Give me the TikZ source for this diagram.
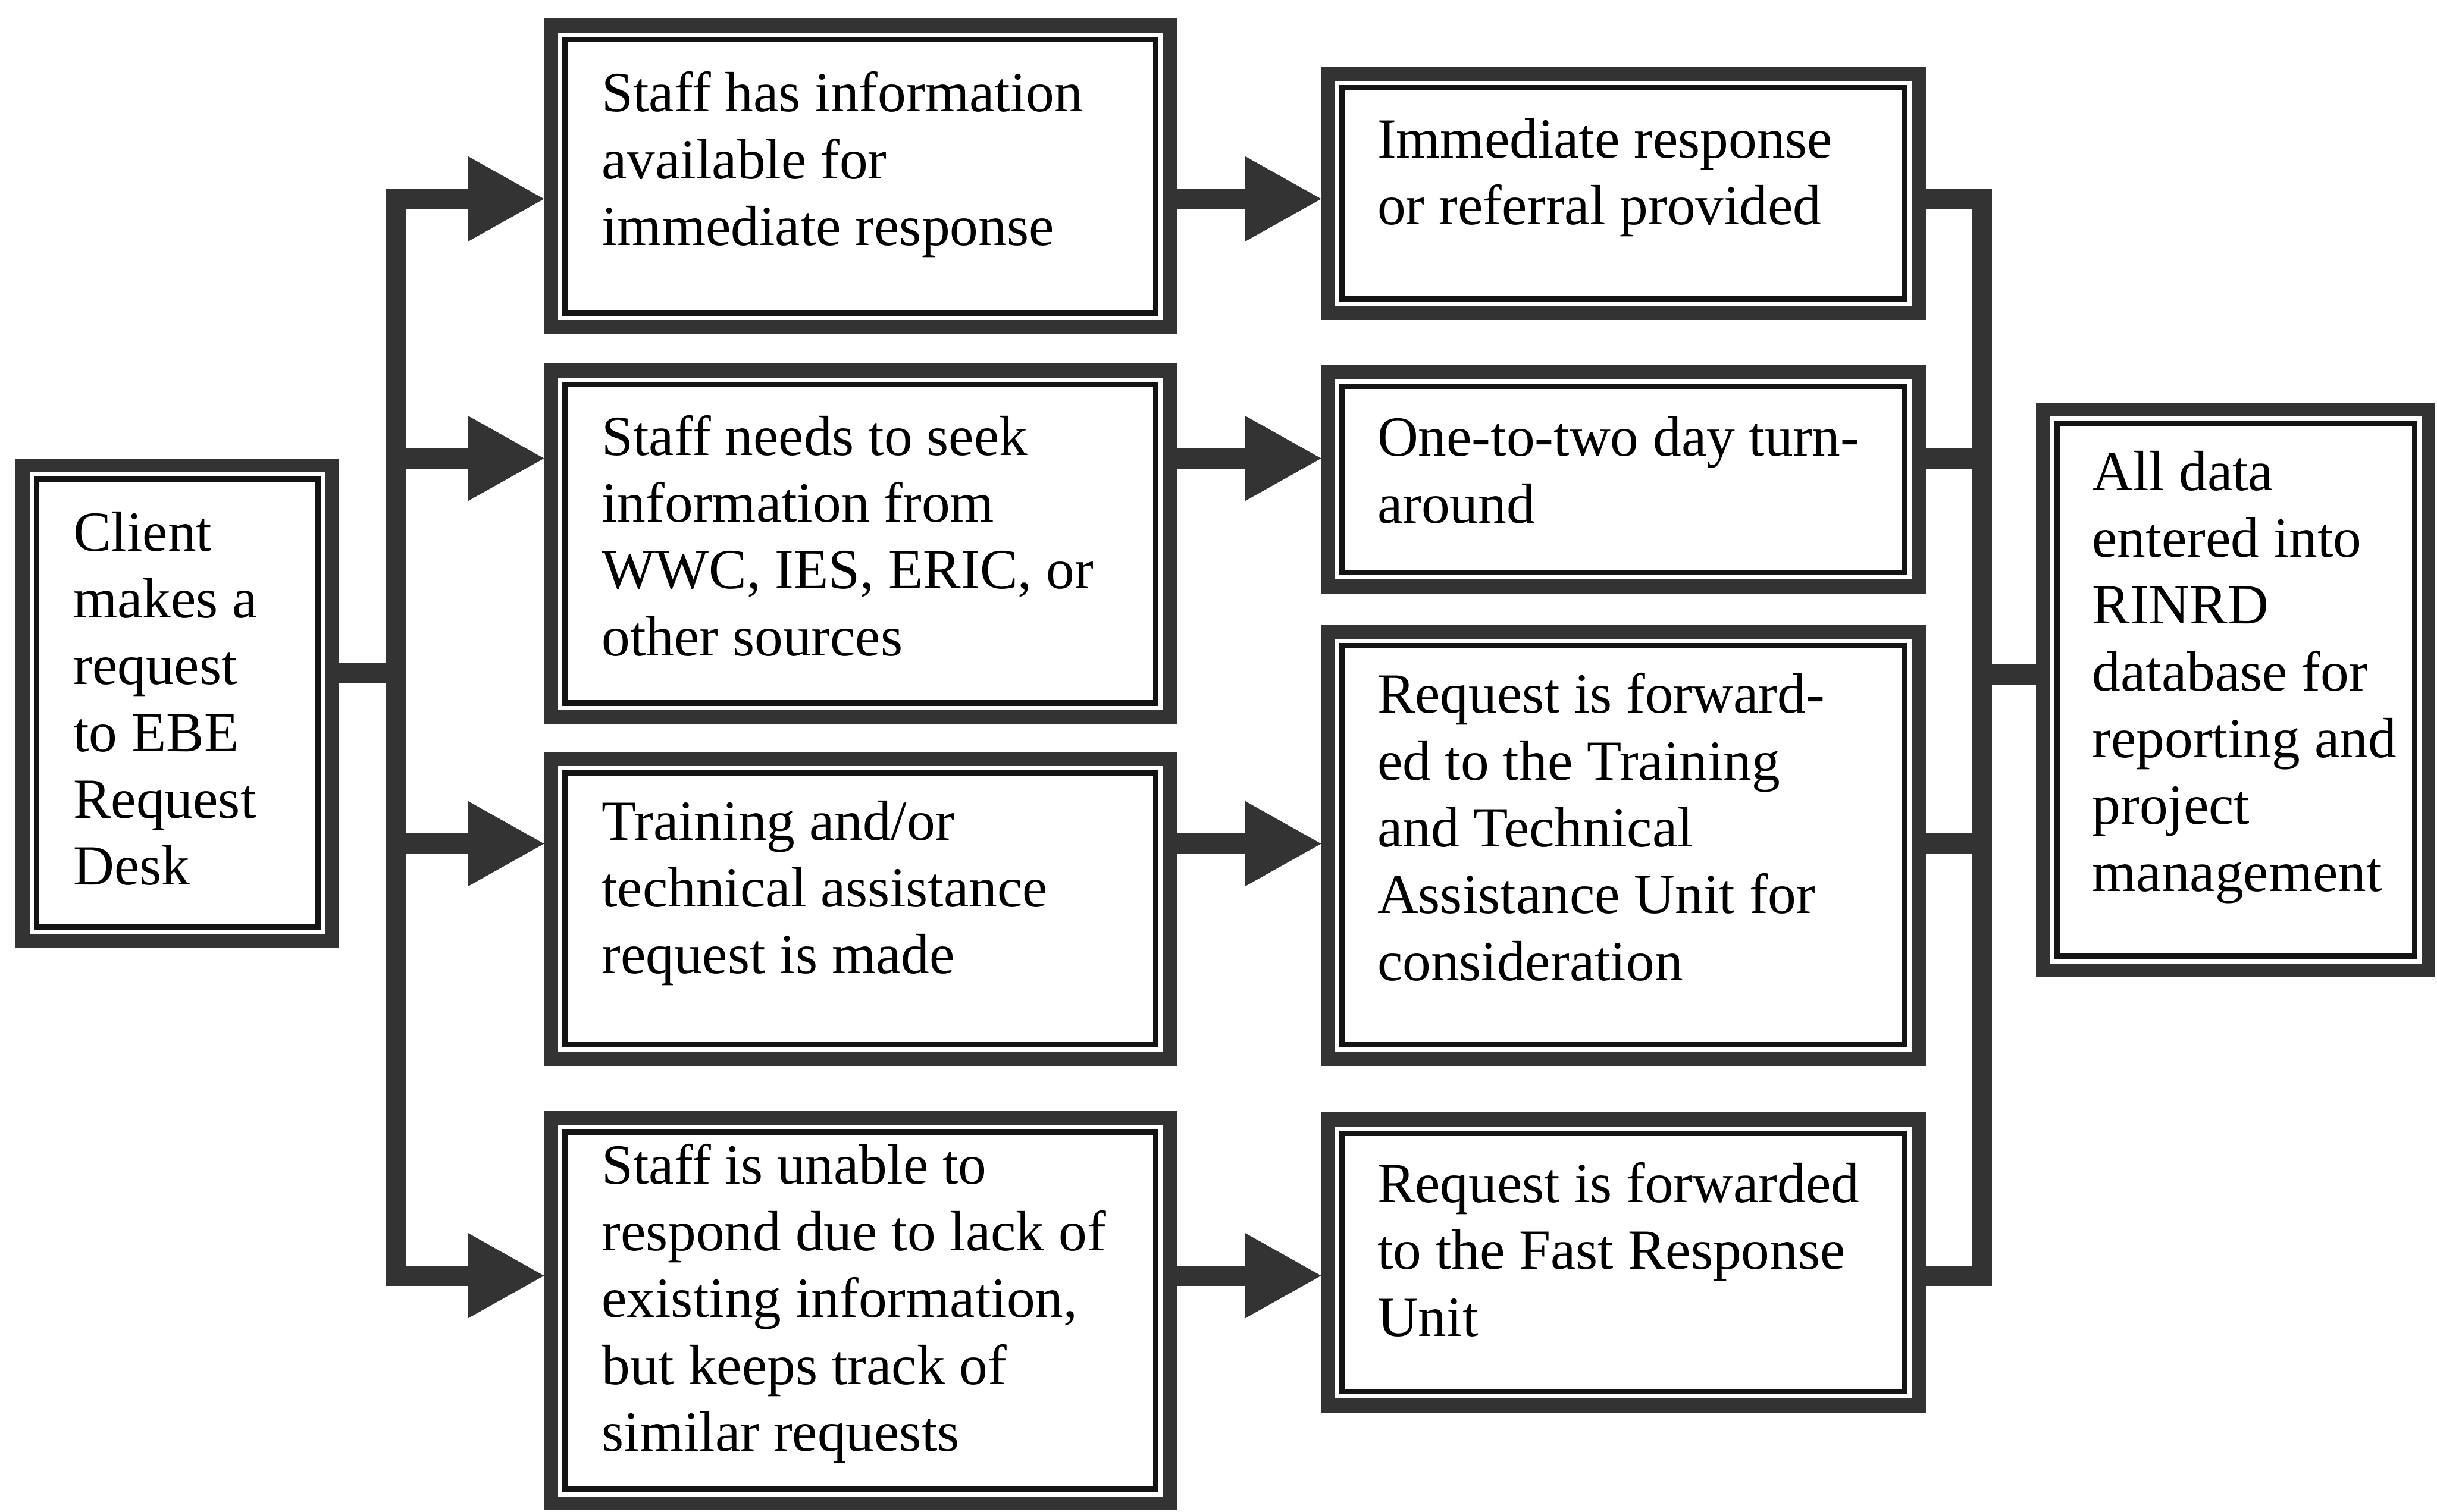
\documentclass[tikz,border=0pt]{standalone}
\usepackage{fontspec}
\setmainfont{Liberation Serif}
\usetikzlibrary{arrows.meta}
\definecolor{band}{gray}{0.2}
\definecolor{innerline}{gray}{0.08}
\begin{document}
\begin{tikzpicture}[x=1bp,y=-1bp,
  box/.style={draw=band, line width=9bp, rectangle, inner sep=0pt, fill=white,
    path picture={\draw[draw=innerline,line width=3.5bp]
      ([shift={(9bp,9bp)}]path picture bounding box.south west) rectangle
      ([shift={(-9bp,-9bp)}]path picture bounding box.north east);}},
  txt/.style={anchor=north west, inner sep=0pt, align=left,
    font=\fontsize{36.5bp}{43bp}\selectfont},
  bus/.style={draw=band, line width=13bp},
  arr/.style={bus, -{Triangle[length=49bp,width=55bp,line width=0pt]}}]
\useasboundingbox (0,0) rectangle (1568,973);

% boxes
\node[box, minimum width=199bp, minimum height=306bp] (cl) at (114,452.5) {};
\node[box, minimum width=398bp, minimum height=194bp] (A) at (553.5,113.5) {};
\node[box, minimum width=398bp, minimum height=223bp] (B) at (553.5,350) {};
\node[box, minimum width=398bp, minimum height=193bp] (T) at (553.5,585) {};
\node[box, minimum width=398bp, minimum height=248bp] (D) at (553.5,843.5) {};
\node[box, minimum width=380bp, minimum height=154bp] (E) at (1044.5,124.5) {};
\node[box, minimum width=380bp, minimum height=138bp] (F) at (1044.5,308.5) {};
\node[box, minimum width=380bp, minimum height=275bp] (G) at (1044.5,544) {};
\node[box, minimum width=380bp, minimum height=184bp] (H) at (1044.5,812.5) {};
\node[box, minimum width=248bp, minimum height=361bp] (R) at (1438.5,444) {};

% texts
\node[txt] (tcl) at (47,329) {Client\\makes a\\request\\to EBE\\Request\\Desk};
\node[txt] (tA) at (387,46) {Staff has information\\available for\\immediate response};
\node[txt] (tB) at (387,267) {Staff needs to seek\\information from\\WWC, IES, ERIC, or\\other sources};
\node[txt] (tT) at (387,515) {Training and/or\\technical assistance\\request is made};
\node[txt] (tD) at (387,736) {Staff is unable to\\respond due to lack of\\existing information,\\but keeps track of\\similar requests};
\node[txt] (tE) at (886,76) {Immediate response\\or referral provided};
\node[txt] (tF) at (886,268) {One-to-two day turn-\\around};
\node[txt] (tG) at (886,433) {Request is forward-\\ed to the Training\\and Technical\\Assistance Unit for\\consideration};
\node[txt] (tH) at (886,748) {Request is forwarded\\to the Fast Response\\Unit};
\node[txt] (tR) at (1346,290) {All data\\entered into\\RINRD\\database for\\reporting and\\project\\management};

% left bus
\coordinate (lbt) at (254.5,121.5);
\coordinate (lbb) at (254.5,827.5);
\coordinate (j0) at (261,433);
\coordinate (l1) at (248,128);
\coordinate (l2) at (248,295);
\coordinate (l3) at (248,543);
\coordinate (l4) at (248,821);
\draw[bus] (lbt) -- (lbb);
\draw[bus] (cl.east |- j0) -- (j0);
\draw[arr] (l1) -- (A.west |- l1);
\draw[arr] (l2) -- (B.west |- l2);
\draw[arr] (l3) -- (T.west |- l3);
\draw[arr] (l4) -- (D.west |- l4);

% middle arrows
\draw[arr] (A.east |- l1) -- (E.west |- l1);
\draw[arr] (B.east |- l2) -- (F.west |- l2);
\draw[arr] (T.east |- l3) -- (G.west |- l3);
\draw[arr] (D.east |- l4) -- (H.west |- l4);

% right bus
\coordinate (rbt) at (1275,121.5);
\coordinate (rbb) at (1275,827.5);
\coordinate (r1) at (1281.5,128);
\coordinate (r2) at (1281.5,295);
\coordinate (r3) at (1281.5,543);
\coordinate (r4) at (1281.5,821);
\coordinate (j5) at (1268.5,434);
\draw[bus] (rbt) -- (rbb);
\draw[bus] (E.east |- r1) -- (r1);
\draw[bus] (F.east |- r2) -- (r2);
\draw[bus] (G.east |- r3) -- (r3);
\draw[bus] (H.east |- r4) -- (r4);
\draw[bus] (j5) -- (R.west |- j5);
\end{tikzpicture}
\end{document}
